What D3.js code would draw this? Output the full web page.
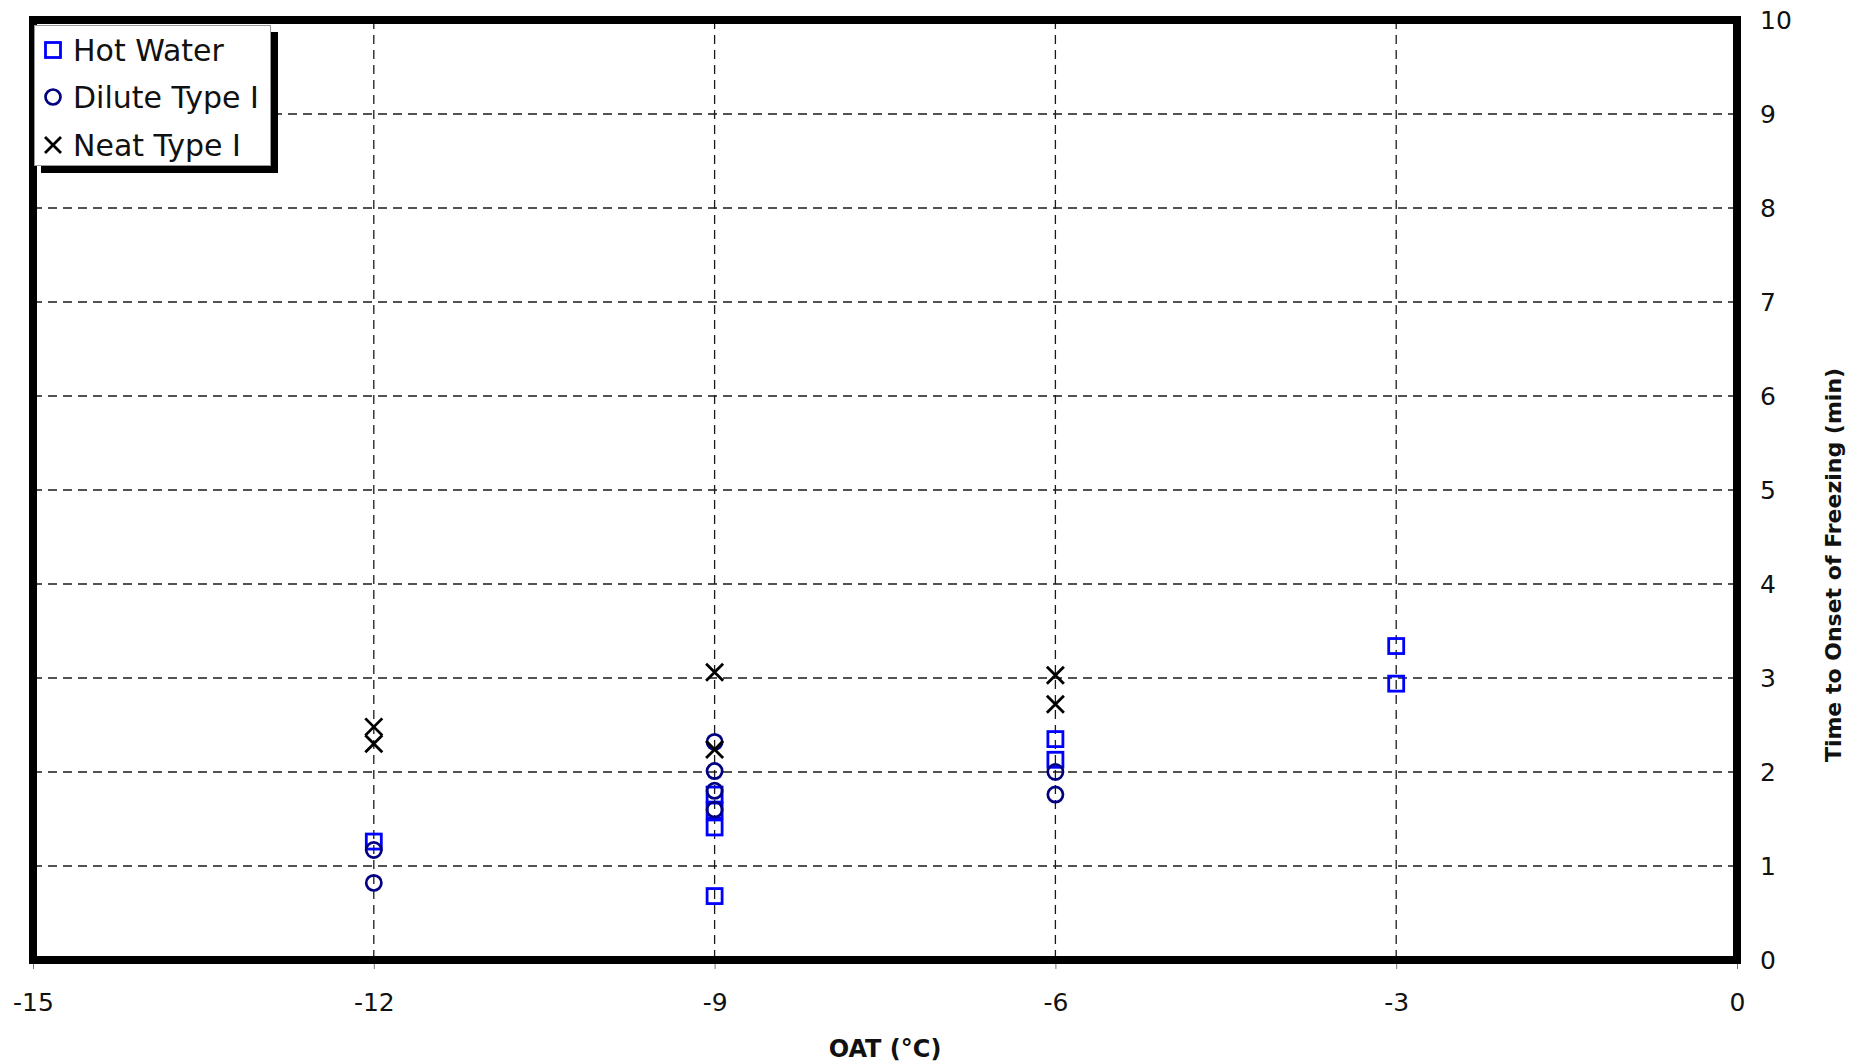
<!DOCTYPE html>
<html>
<head>
<meta charset="utf-8">
<script src="https://cdn.jsdelivr.net/npm/d3@7"></script>
<style>
  html, body { margin: 0; padding: 0; background: #fff; }
  svg { display: block; }
  text { font-family: "DejaVu Sans", sans-serif; fill: #111; }
</style>
</head>
<body>
<svg id="chart" width="1872" height="1064"></svg>
<script>
// ---- Data ----
const xTicks = [-15, -12, -9, -6, -3, 0];
const yTicks = [0, 1, 2, 3, 4, 5, 6, 7, 8, 9, 10];

const hotWaterX = [-12, -9, -9, -9, -9, -6, -6, -3, -3];
const hotWaterY = [1.26, 1.76, 1.59, 1.41, 0.68, 2.35, 2.13, 3.34, 2.94];

const diluteX = [-12, -12, -9, -9, -9, -9, -6, -6];
const diluteY = [1.17, 0.82, 2.32, 2.01, 1.80, 1.60, 2.00, 1.76];

const neatX = [-12, -12, -9, -9, -6, -6];
const neatY = [2.48, 2.30, 3.06, 2.24, 3.03, 2.72];

const seriesNames = ["Hot Water", "Dilute Type I", "Neat Type I"];
const xLabel = "OAT (°C)";
const yLabel = "Time to Onset of Freezing (min)";

// ---- Layout ----
const svg = d3.select("#chart");
const pL = 33, pR = 1737, pT = 20, pB = 960;

const x = d3.scaleLinear().domain([-15, 0]).range([pL, pR]);
const y = d3.scaleLinear().domain([0, 10]).range([pB, pT]);

// Gridlines
const grid = svg.append("g").attr("stroke", "#1a1a1a").attr("stroke-width", 1.3).attr("stroke-dasharray", "9,6");
grid.selectAll("line.gx").data(xTicks.filter(d => d > -15 && d < 0)).join("line")
  .attr("x1", d => x(d)).attr("x2", d => x(d)).attr("y1", pT).attr("y2", pB);
grid.selectAll("line.gy").data(yTicks.filter(d => d > 0 && d < 10)).join("line")
  .attr("x1", pL).attr("x2", pR).attr("y1", d => y(d)).attr("y2", d => y(d));

// X axis (bottom) via d3 axis
const xAxis = svg.append("g").attr("transform", `translate(0,${pB})`)
  .call(d3.axisBottom(x).tickValues(xTicks).tickSize(9).tickSizeOuter(0).tickPadding(24).tickFormat(d => String(d)));
xAxis.select(".domain").remove();
xAxis.selectAll(".tick line").attr("stroke", "#777");
xAxis.selectAll(".tick text").attr("font-size", 25).attr("font-family", "DejaVu Sans").attr("fill", "#111");

// Y axis (right) via d3 axis
const yAxis = svg.append("g").attr("transform", `translate(${pR},0)`)
  .call(d3.axisRight(y).tickValues(yTicks).tickSize(0).tickPadding(23).tickFormat(d => String(d)));
yAxis.select(".domain").remove();
yAxis.selectAll(".tick text").attr("font-size", 25).attr("font-family", "DejaVu Sans").attr("fill", "#111");

// Markers
const plot = svg.append("g");
const sq = 15;
plot.selectAll("rect.hw").data(hotWaterX.map((d, i) => [d, hotWaterY[i]])).join("rect")
  .attr("x", d => x(d[0]) - sq / 2).attr("y", d => y(d[1]) - sq / 2)
  .attr("width", sq).attr("height", sq)
  .attr("fill", "none").attr("stroke", "#0000ff").attr("stroke-width", 2.8);
plot.selectAll("circle.dl").data(diluteX.map((d, i) => [d, diluteY[i]])).join("circle")
  .attr("cx", d => x(d[0])).attr("cy", d => y(d[1])).attr("r", 7.6)
  .attr("fill", "none").attr("stroke", "#000080").attr("stroke-width", 2.7);
const xs = 8.5;
plot.selectAll("path.nt").data(neatX.map((d, i) => [d, neatY[i]])).join("path")
  .attr("d", d => {
    const cx = x(d[0]), cy = y(d[1]);
    return `M${cx - xs},${cy - xs}L${cx + xs},${cy + xs}M${cx - xs},${cy + xs}L${cx + xs},${cy - xs}`;
  })
  .attr("fill", "none").attr("stroke", "#000").attr("stroke-width", 2.8);

// Frame
svg.append("rect").attr("x", pL).attr("y", pT).attr("width", pR - pL).attr("height", pB - pT)
  .attr("fill", "none").attr("stroke", "#000").attr("stroke-width", 8);

// Legend
const lg = svg.append("g");
lg.append("rect").attr("x", 41).attr("y", 32).attr("width", 237).attr("height", 141).attr("fill", "#000");
lg.append("rect").attr("x", 34.5).attr("y", 25.5).attr("width", 236).attr("height", 140)
  .attr("fill", "#fff").attr("stroke", "#999").attr("stroke-width", 1);
const rowY = [50, 97, 145];
const mx = 53;
lg.append("rect").attr("x", mx - 7.5).attr("y", rowY[0] - 7.5).attr("width", 15).attr("height", 15)
  .attr("fill", "none").attr("stroke", "#0000ff").attr("stroke-width", 2.8);
lg.append("circle").attr("cx", mx).attr("cy", rowY[1]).attr("r", 7.5)
  .attr("fill", "none").attr("stroke", "#000080").attr("stroke-width", 2.7);
lg.append("path").attr("d", `M${mx - 8},${rowY[2] - 8}L${mx + 8},${rowY[2] + 8}M${mx - 8},${rowY[2] + 8}L${mx + 8},${rowY[2] - 8}`)
  .attr("stroke", "#000").attr("stroke-width", 2.8).attr("fill", "none");
lg.selectAll("text.lt").data(seriesNames).join("text")
  .attr("x", 73).attr("y", (d, i) => rowY[i] + 11)
  .attr("font-size", 30).text(d => d);

// Axis titles
svg.append("text").attr("x", 885).attr("y", 1057).attr("text-anchor", "middle")
  .attr("font-size", 24).attr("font-weight", "bold").text(xLabel);
svg.append("text").attr("transform", "translate(1841,565) rotate(-90)").attr("text-anchor", "middle")
  .attr("font-size", 22).attr("font-weight", "bold").text(yLabel);
</script>
</body>
</html>
